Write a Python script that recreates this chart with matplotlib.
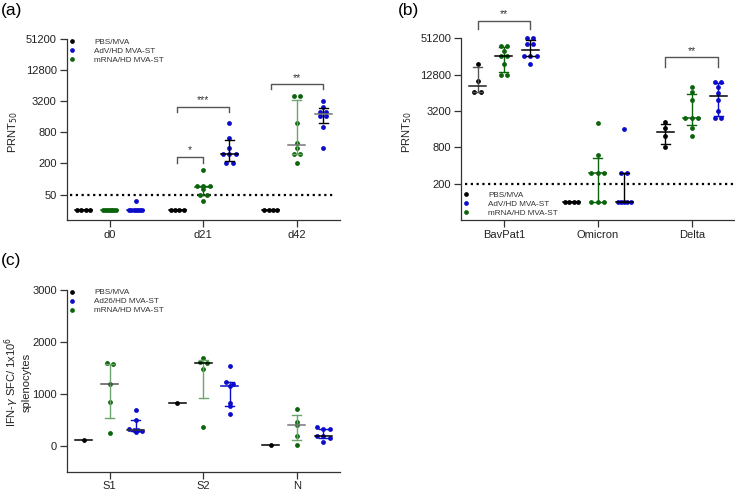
import numpy as np
import matplotlib
matplotlib.use('Agg')
import matplotlib.pyplot as plt
from matplotlib.lines import Line2D
from matplotlib.ticker import NullLocator

plt.rcParams['font.family'] = ['Liberation Sans', 'DejaVu Sans']

# -----------------------------------------------------------------------------
# Data (each list = one group of animals)
# -----------------------------------------------------------------------------
a_days = ['d0', 'd21', 'd42']
a_pbs = [[25, 25, 25, 25], [25, 25, 25, 25], [25, 25, 25, 25]]
a_mrna = [[25, 25, 25, 25, 25, 25, 25, 25],
          [152, 75, 75, 75, 64, 49, 49, 38],
          [4050, 4050, 1230, 504, 400, 306, 306, 200]]
a_adv = [[38, 25, 25, 25, 25, 25, 25, 25],
         [1230, 614, 404, 306, 306, 306, 200, 200],
         [3260, 2430, 2000, 2000, 1650, 1650, 1030, 400]]
a_ticks = [50, 200, 800, 3200, 12800, 51200]
a_lod = 50

b_variants = ['BavPat1', 'Omicron', 'Delta']
b_pbs = [[19400, 9860, 6480, 6480], [100, 100, 100, 100], [2070, 1670, 1210, 800]]
b_mrna = [[38800, 38800, 32000, 25800, 25800, 19400, 12700, 12700],
          [2020, 604, 301, 301, 301, 100, 100, 100],
          [8110, 6480, 4850, 2450, 2450, 2450, 1670, 1210]]
b_adv = [[51200, 51200, 40800, 40800, 25800, 25800, 25800, 19400],
         [1610, 301, 301, 100, 100, 100, 100, 100],
         [9600, 9600, 7960, 6320, 4900, 3180, 2450, 2450]]
b_ticks = [200, 800, 3200, 12800, 51200]
b_lod = 200

c_antigens = ['S1', 'S2', 'N']
c_pbs = [[100], [820], [5]]
c_mrna = [[1590, 1570, 1190, 835, 235],
          [1685, 1620, 1600, 1475, 350],
          [710, 455, 400, 190, 12]]
c_ad26 = [[685, 490, 315, 300, 300, 290, 255],
          [1535, 1225, 1195, 1145, 815, 760, 605],
          [360, 318, 318, 190, 180, 140, 75]]
c_ticks = [0, 1000, 2000, 3000]

# significance brackets: (category, group from, group to, bar y, leg y, text)
a_sig = [(1, 0, 1, 270, 207, '*'), (1, 0, 2, 2480, 1930, '***'),
         (2, 0, 2, 6700, 5380, '**')]
b_sig = [(0, 0, 2, 100600, 73200, '**'), (2, 0, 2, 24900, 17400, '**')]

# -----------------------------------------------------------------------------
# Style
# -----------------------------------------------------------------------------
BLACK = '#000000'
BLUE = '#0b0bcc'
GREEN = '#0b640b'
LGREEN = '#6da66d'
offsets = [-0.28, 0.0, 0.28]  # PBS, mRNA, AdV

# bar colour / median colour per category for each group
a_bar = {'mrna': [(GREEN, GREEN), (GREEN, GREEN), (LGREEN, '#777777')],
         'adv': [(BLUE, BLUE), (BLACK, BLACK), (BLACK, '#777777')],
         'pbs': [(BLACK, BLACK)] * 3}
b_bar = {'pbs': [('#555555', '#222222'), (BLACK, BLACK), (BLACK, BLACK)],
         'mrna': [(GREEN, BLACK), (GREEN, GREEN), (GREEN, GREEN)],
         'adv': [(BLACK, BLACK), (BLACK, BLACK), (BLUE, BLACK)]}
c_bar = {'pbs': [(BLACK, BLACK)] * 3,
         'mrna': [(LGREEN, '#555555'), (LGREEN, BLACK), (LGREEN, '#777777')],
         'adv': [(BLUE, '#333333'), (BLUE, BLUE), (BLUE, BLACK)]}

fig = plt.figure(figsize=(7.35, 4.9), dpi=100)
W, H = 735.0, 490.0


def rect(l, t, r, b):
    return [l / W, 1 - b / H, (r - l) / W, (b - t) / H]


def swarm_px(ax, vals, row_tol=2.7, step=6.5, maxw=13.0):
    # GraphPad-like layout: nearly equal values go side by side in a row
    py = ax.transData.transform(np.column_stack([np.zeros(len(vals)), vals]))[:, 1]
    order = np.argsort(-py)
    offs = np.zeros(len(vals))
    rows, cur = [], [order[0]]
    for i in order[1:]:
        if abs(py[i] - py[cur[0]]) < row_tol:
            cur.append(i)
        else:
            rows.append(cur)
            cur = [i]
    rows.append(cur)
    for row in rows:
        n = len(row)
        if n == 1:
            continue
        s = min(step, maxw / (n - 1))
        for k, i in enumerate(row):
            offs[i] = (k - (n - 1) / 2) * s
    return offs


def draw_group(ax, xc, vals, color, bar_c, med_c):
    vals = np.asarray(vals, dtype=float)
    p0 = ax.transData.transform((0, 1))[0]
    pxu = ax.transData.transform((1, 1))[0] - p0
    offs = swarm_px(ax, vals) / pxu
    ax.scatter(xc + offs, vals, s=12, color=color, linewidths=0, zorder=2,
               clip_on=False)
    med = np.median(vals)
    hw, cw = 8.5 / pxu, 4.5 / pxu
    if len(vals) > 1:
        q1, q3 = np.percentile(vals, [25, 75], method='weibull')
        ax.plot([xc, xc], [q1, q3], color=bar_c, lw=1.0, zorder=3)
        for q in (q1, q3):
            ax.plot([xc - cw, xc + cw], [q, q], color=bar_c, lw=1.0, zorder=3)
    ax.plot([xc - hw, xc + hw], [med, med], color=med_c, lw=1.1, zorder=3)


def style_axes(ax, cats):
    ax.spines['top'].set_visible(False)
    ax.spines['right'].set_visible(False)
    for s in ('left', 'bottom'):
        ax.spines[s].set_linewidth(0.9)
        ax.spines[s].set_color('#333333')
    ax.set_xlim(-0.46, 2.46)
    ax.set_xticks([0, 1, 2])
    ax.set_xticklabels(cats)
    ax.tick_params(axis='both', labelsize=8, length=5, width=0.9,
                   color='#333333', labelcolor='#222222', pad=2)


def add_sig(ax, sigs):
    for cat, g1, g2, yb, yl, txt in sigs:
        x1, x2 = cat + offsets[g1], cat + offsets[g2]
        ax.plot([x1, x1, x2, x2], [yl, yb, yb, yl], color='#555555', lw=1.0,
                clip_on=False, zorder=3)
        ax.annotate(txt, ((x1 + x2) / 2, yb), xytext=(0, 2.5),
                    textcoords='offset points', ha='center', va='baseline',
                    fontsize=7.5, color='#333333', annotation_clip=False)


def add_legend(ax, labels, loc, anchor):
    handles = [Line2D([], [], marker='o', ls='none', ms=3.4, mew=0, color=c)
               for c in (BLACK, BLUE, GREEN)]
    ax.legend(handles, labels, loc=loc, bbox_to_anchor=anchor, frameon=False,
              fontsize=5.9, handlelength=1.0, handletextpad=2.2, borderpad=0,
              borderaxespad=0, labelspacing=0.15, labelcolor='#333333')


# -----------------------------------------------------------------------------
# (a) PRNT50 over time
# -----------------------------------------------------------------------------
ax_a = fig.add_axes(rect(66.5, 38.5, 340, 220))
ax_a.set_yscale('log', base=2)
ax_a.set_ylim(16.3, 51200)
ax_a.set_yticks(a_ticks)
ax_a.set_yticklabels([str(t) for t in a_ticks])
ax_a.yaxis.set_minor_locator(NullLocator())
style_axes(ax_a, a_days)
ax_a.axhline(a_lod, xmin=0.013, xmax=0.98, color='black', lw=1.6,
             ls=(0, (1, 1.6)), zorder=1)
for i in range(3):
    draw_group(ax_a, i + offsets[0], a_pbs[i], BLACK, *a_bar['pbs'][i])
    draw_group(ax_a, i + offsets[1], a_mrna[i], GREEN, *a_bar['mrna'][i])
    draw_group(ax_a, i + offsets[2], a_adv[i], BLUE, *a_bar['adv'][i])
add_sig(ax_a, a_sig)
add_legend(ax_a, ['PBS/MVA', 'AdV/HD MVA-ST', 'mRNA/HD MVA-ST'],
           'upper left', (0.0055, 1.002))

# -----------------------------------------------------------------------------
# (b) PRNT50 against variants
# -----------------------------------------------------------------------------
ax_b = fig.add_axes(rect(460.7, 38.3, 735, 220))
ax_b.set_yscale('log', base=2)
ax_b.set_ylim(50, 51200)
ax_b.set_yticks(b_ticks)
ax_b.set_yticklabels([str(t) for t in b_ticks])
ax_b.yaxis.set_minor_locator(NullLocator())
style_axes(ax_b, b_variants)
ax_b.axhline(b_lod, xmin=0.016, xmax=1.0, color='black', lw=1.6,
             ls=(0, (1, 1.6)), zorder=1)
for i in range(3):
    draw_group(ax_b, i + offsets[0], b_pbs[i], BLACK, *b_bar['pbs'][i])
    draw_group(ax_b, i + offsets[1], b_mrna[i], GREEN, *b_bar['mrna'][i])
    draw_group(ax_b, i + offsets[2], b_adv[i], BLUE, *b_bar['adv'][i])
add_sig(ax_b, b_sig)
add_legend(ax_b, ['PBS/MVA', 'AdV/HD MVA-ST', 'mRNA/HD MVA-ST'],
           'lower left', (0.005, 0.019))

# -----------------------------------------------------------------------------
# (c) IFN-gamma ELISpot
# -----------------------------------------------------------------------------
ax_c = fig.add_axes(rect(66.7, 290, 340, 471.5))
ax_c.set_ylim(-500, 3000)
ax_c.set_yticks(c_ticks)
style_axes(ax_c, c_antigens)
for i in range(3):
    draw_group(ax_c, i + offsets[0], c_pbs[i], BLACK, *c_bar['pbs'][i])
    draw_group(ax_c, i + offsets[1], c_mrna[i], GREEN, *c_bar['mrna'][i])
    draw_group(ax_c, i + offsets[2], c_ad26[i], BLUE, *c_bar['adv'][i])
add_legend(ax_c, ['PBS/MVA', 'Ad26/HD MVA-ST', 'mRNA/HD MVA-ST'],
           'upper left', (0.0055, 1.007))

# -----------------------------------------------------------------------------
# Labels
# -----------------------------------------------------------------------------
fig.text(12.7 / W, 1 - 132 / H, 'PRNT$_{50}$', rotation=90, ha='center',
         va='center', fontsize=8, color='#222222')
fig.text(407.5 / W, 1 - 132 / H, 'PRNT$_{50}$', rotation=90, ha='center',
         va='center', fontsize=8, color='#222222')
fig.text(17 / W, 1 - 382 / H, 'IFN-$\\gamma$ SFC/ 1x10$^{6}$\nsplenocytes',
         rotation=90, ha='center', va='center', multialignment='center',
         fontsize=8, color='#222222', linespacing=1.0)
fig.text(1 / W, 1 - 11 / H, '(a)', fontsize=12.5, va='center', ha='left')
fig.text(398 / W, 1 - 11 / H, '(b)', fontsize=12.5, va='center', ha='left')
fig.text(1 / W, 1 - 260 / H, '(c)', fontsize=12.5, va='center', ha='left')

fig.savefig('out.png', dpi=100)
